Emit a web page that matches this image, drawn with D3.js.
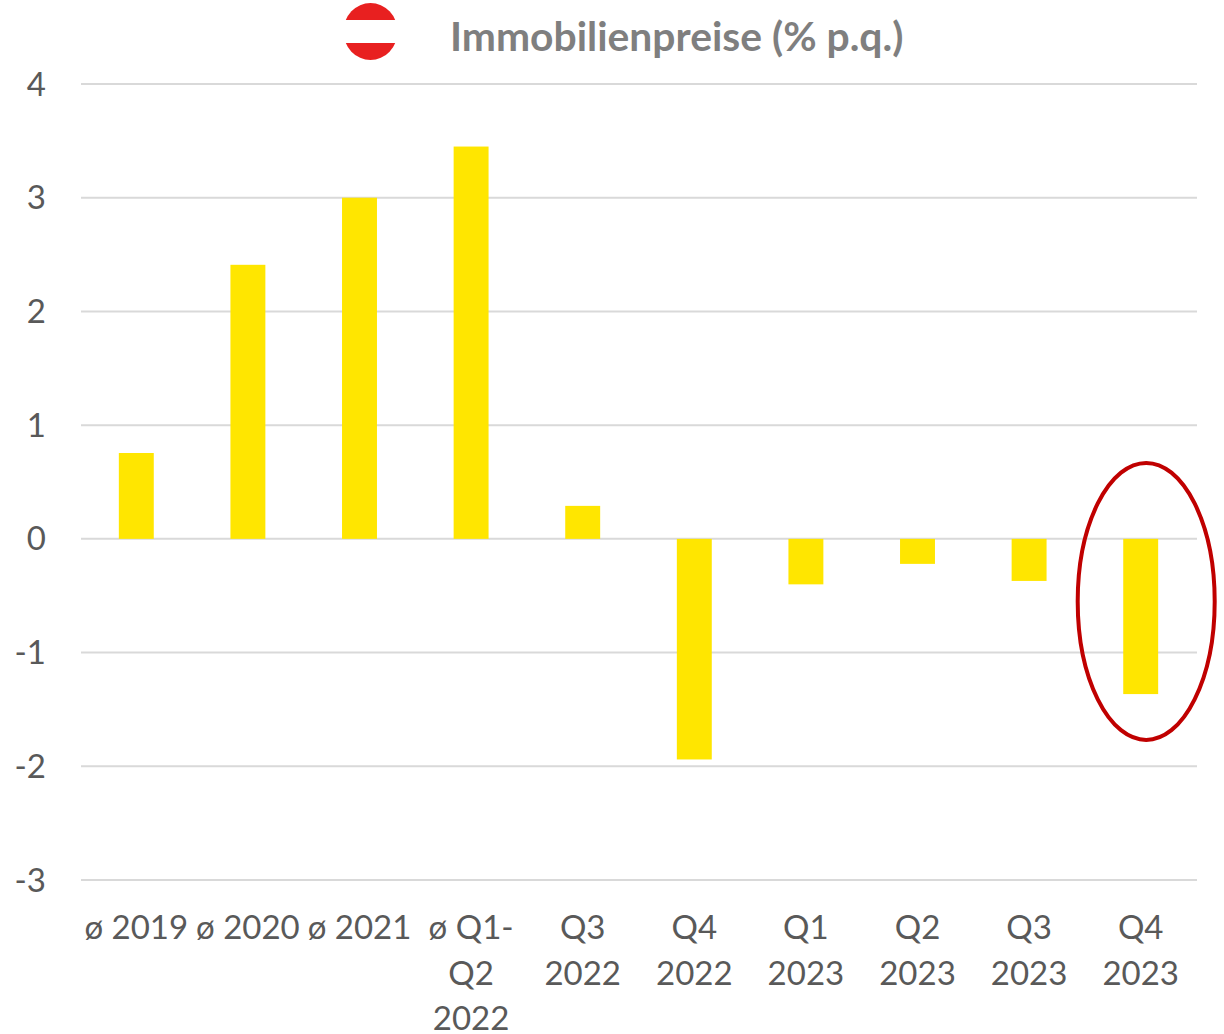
<!DOCTYPE html>
<html><head><meta charset="utf-8">
<script src="https://cdn.jsdelivr.net/npm/d3@7/dist/d3.min.js"></script>
<style>html,body{margin:0;padding:0;background:#fff}svg{display:block}text{font-family:Lato,"Open Sans",sans-serif}</style>
</head><body><svg id="c" width="1224" height="1034"></svg>
<script>
const categories = ["ø 2019","ø 2020","ø 2021","ø Q1-Q2 2022","Q3 2022","Q4 2022","Q1 2023","Q2 2023","Q3 2023","Q4 2023"];
const labelLines = [["ø 2019"],["ø 2020"],["ø 2021"],["ø Q1-","Q2","2022"],["Q3","2022"],["Q4","2022"],["Q1","2023"],["Q2","2023"],["Q3","2023"],["Q4","2023"]];
const values = [0.755,2.41,3.0,3.45,0.29,-1.94,-0.40,-0.22,-0.37,-1.365];
const yTicks = [4,3,2,1,0,-1,-2,-3];
const titleText = "Immobilienpreise (% p.q.)";
const highlighted = "Q4 2023";

const svg = d3.select("#c");
const x = d3.scaleBand().domain(categories).range([80.5,1196.5]).paddingInner(0.687).paddingOuter(0.3435);
const y = d3.scaleLinear().domain([-3,4]).range([880,84]);

// gridlines
svg.append("g").selectAll("line").data(yTicks).join("line")
  .attr("x1",81).attr("x2",1197)
  .attr("y1",d=>y(d)).attr("y2",d=>y(d))
  .attr("stroke","#d9d9d9").attr("stroke-width",2);

// y labels
svg.append("g").selectAll("text").data(yTicks).join("text")
  .attr("x",46).attr("y",d=>y(d)+11.5)
  .attr("text-anchor","end").attr("font-size",33).attr("fill","#595959")
  .text(d=>d);

// bars
svg.append("g").selectAll("rect").data(values).join("rect")
  .attr("x",(d,i)=>x(categories[i])).attr("width",x.bandwidth())
  .attr("y",d=>y(Math.max(d,0))).attr("height",d=>Math.abs(y(d)-y(0)))
  .attr("fill","#ffe600");

// x labels
const lab = svg.append("g").selectAll("text").data(labelLines).join("text")
  .attr("text-anchor","middle").attr("font-size",33).attr("fill","#595959");
lab.each(function(lines,i){
  const cx = x(categories[i]) + x.bandwidth()/2;
  d3.select(this).selectAll("tspan").data(lines).join("tspan")
    .attr("x",cx).attr("y",(d,j)=>939+j*45.5).text(d=>d);
});

// highlight ellipse, placed on the last category
const hx = x(highlighted) + x.bandwidth()/2;
svg.append("ellipse")
  .attr("cx",hx+5.5).attr("cy",y(-0.55)).attr("rx",68.5).attr("ry",138.5)
  .attr("fill","none").attr("stroke","#c00000").attr("stroke-width",4);

// title
svg.append("text").attr("x",450).attr("y",51)
  .attr("font-size",40.8).attr("font-weight",700).attr("fill","#7f7f7f").text(titleText);

// Austria flag badge
const defs = svg.append("defs");
defs.append("clipPath").attr("id","flagClip").append("ellipse")
  .attr("cx",370.5).attr("cy",31.5).attr("rx",27).attr("ry",28.5);
const flag = svg.append("g").attr("clip-path","url(#flagClip)");
const bands = [[3,20,"#e82020"],[20,43,"#ffffff"],[43,60,"#e82020"]];
flag.selectAll("rect").data(bands).join("rect")
  .attr("x",340).attr("width",61).attr("y",d=>d[0]).attr("height",d=>d[1]-d[0]).attr("fill",d=>d[2]);
</script></body></html>
